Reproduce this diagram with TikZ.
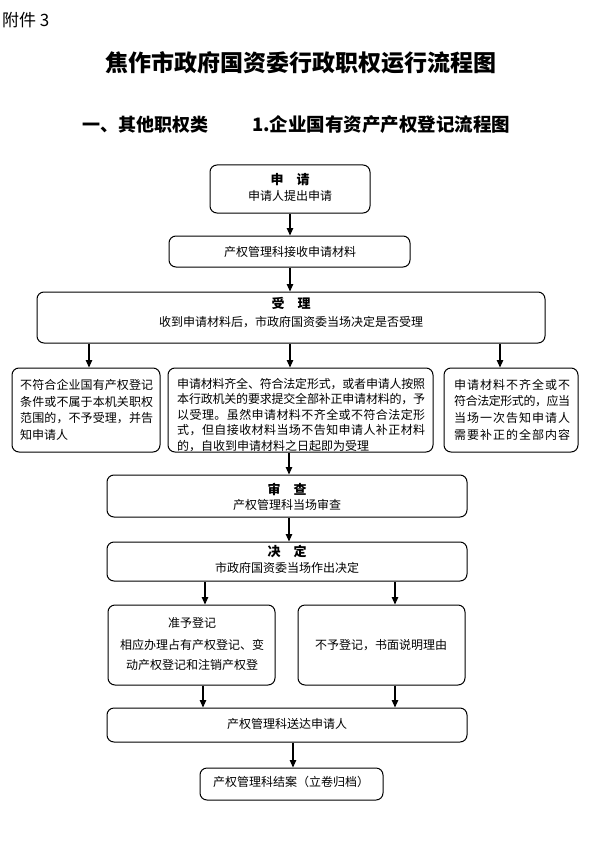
\documentclass[tikz,border=0pt]{standalone}
\usepackage{fontspec}
\setmainfont{Noto Sans CJK SC}
\usetikzlibrary{arrows.meta}
\makeatletter
\def\jl@loop#1{\ifx#1\@nil\else#1\hskip0pt plus 1fil minus 0.6pt\relax\expandafter\jl@loop\fi}
\newcommand\jline[2]{\makebox[#1][s]{\jl@loop#2\@nil\unskip}}
\makeatother
\newcommand\bx[5]{\node[box,minimum width={#4pt-#2pt},minimum height={#5pt-#3pt}] (#1) at ({(#2+#4)/2},{(#3+#5)/2}) {};}
\begin{document}
\begin{tikzpicture}[x=1pt,y=-1pt,
  box/.style={draw,line width=1pt,rounded corners=7pt,inner sep=0pt},
  arr/.style={-{Triangle[length=7.5pt,width=6.5pt]},line width=1.1pt},
  txt/.style={inner sep=0pt,font=\fontsize{12}{14}\selectfont},
  hd/.style={inner sep=0pt,font=\fontsize{13}{15}\selectfont\bfseries}]
\useasboundingbox[fill=white] (0,0) rectangle (590,853);
% header
\node[inner sep=0pt,anchor=west,font=\fontsize{17}{19}\selectfont] (fj) at (2,20) {附件 3};
\node[inner sep=0pt,font=\fontsize{23}{25}\selectfont\bfseries] (title) at (301,63) {焦作市政府国资委行政职权运行流程图};
\node[inner sep=0pt,anchor=west,font=\fontsize{18}{20}\selectfont\bfseries] (sub1) at (82,125) {一、其他职权类};
\node[inner sep=0pt,anchor=west,font=\fontsize{18.5}{20}\selectfont\bfseries] (sub2) at (252,125) {1.企业国有资产产权登记流程图};
% boxes
\bx{A}{210}{165}{370}{213}
\bx{B}{169}{236}{410}{267}
\bx{C}{37}{292}{545}{343}
\bx{L}{12}{368}{160}{452}
\bx{M}{168}{368}{433}{452}
\bx{R}{444}{368}{578}{452}
\bx{D}{107}{475}{467}{517}
\bx{E}{107}{542}{467}{581}
\bx{F}{108}{605}{275}{685}
\bx{G}{298}{605}{465}{685}
\bx{H}{107}{708}{467}{742}
\bx{K}{200}{768}{383}{800}
% texts
\node[hd] (A1) at (290,180) {申\hspace{1em}请};
\node[txt] (A2) at (290,196) {申请人提出申请};
\node[txt] (B1) at (290,252) {产权管理科接收申请材料};
\node[hd] (C1) at (291,303) {受\hspace{1em}理};
\node[txt] (C2) at (291,322) {收到申请材料后，市政府国资委当场决定是否受理};
\node[txt,anchor=west] (L1) at (20,385) {\jline{133pt}{不符合企业国有产权登记}};
\node[txt,anchor=west] (L2) at (20,401.5) {\jline{133pt}{条件或不属于本机关职权}};
\node[txt,anchor=west] (L3) at (20,418) {\jline{133pt}{范围的，不予受理，并告}};
\node[txt,anchor=west] (L4) at (20,434.5) {知申请人};
\node[txt,anchor=west] (M1) at (177,384) {\jline{248pt}{申请材料齐全、符合法定形式，或者申请人按照}};
\node[txt,anchor=west] (M2) at (177,399.5) {\jline{248pt}{本行政机关的要求提交全部补正申请材料的，予}};
\node[txt,anchor=west] (M3) at (177,415) {\jline{248pt}{以受理。虽然申请材料不齐全或不符合法定形}};
\node[txt,anchor=west] (M4) at (177,430.5) {\jline{248pt}{式，但自接收材料当场不告知申请人补正材料}};
\node[txt,anchor=west] (M5) at (177,446) {的，自收到申请材料之日起即为受理};
\node[txt,anchor=west] (R1) at (454,385) {\jline{116pt}{申请材料不齐全或不}};
\node[txt,anchor=west] (R2) at (454,401.5) {\jline{116pt}{符合法定形式的，应当}};
\node[txt,anchor=west] (R3) at (454,418) {\jline{116pt}{当场一次告知申请人}};
\node[txt,anchor=west] (R4) at (454,434.5) {\jline{116pt}{需要补正的全部内容}};
\node[hd] (D1) at (287,489) {审\hspace{1em}查};
\node[txt] (D2) at (287,505) {产权管理科当场审查};
\node[hd] (E1) at (287,551) {决\hspace{1em}定};
\node[txt] (E2) at (287,568) {市政府国资委当场作出决定};
\node[txt] (F1) at (192,623) {准予登记};
\node[txt] (F2) at (192,645) {相应办理占有产权登记、变};
\node[txt] (F3) at (192,665) {动产权登记和注销产权登};
\node[txt] (G1) at (381,645) {不予登记，书面说明理由};
\node[txt] (H1) at (287,724) {产权管理科送达申请人};
\node[txt] (K1) at (291,782) {产权管理科结案（立卷归档）};
% connector x positions
\coordinate (xm) at (290,0);
\coordinate (xl) at (89,0);
\coordinate (xr) at (500,0);
\coordinate (xd) at (289,0);
\coordinate (xf) at (205,0);
\coordinate (xg) at (395,0);
\coordinate (xf2) at (203,0);
\coordinate (xk) at (293,0);
% connectors
\draw[arr] (xm |- A.south) -- (xm |- B.north);
\draw[arr] (xm |- B.south) -- (xm |- C.north);
\draw[arr] (xl |- C.south) -- (xl |- L.north);
\draw[arr] (xm |- C.south) -- (xm |- M.north);
\draw[arr] (xr |- C.south) -- (xr |- R.north);
\draw[arr] (xd |- M.south) -- (xd |- D.north);
\draw[arr] (xd |- D.south) -- (xd |- E.north);
\draw[arr] (xf |- E.south) -- (xf |- F.north);
\draw[arr] (xg |- E.south) -- (xg |- G.north);
\draw[arr] (xf2 |- F.south) -- (xf2 |- H.north);
\draw[arr] (xg |- G.south) -- (xg |- H.north);
\draw[arr] (xk |- H.south) -- (xk |- K.north);
\end{tikzpicture}
\end{document}
